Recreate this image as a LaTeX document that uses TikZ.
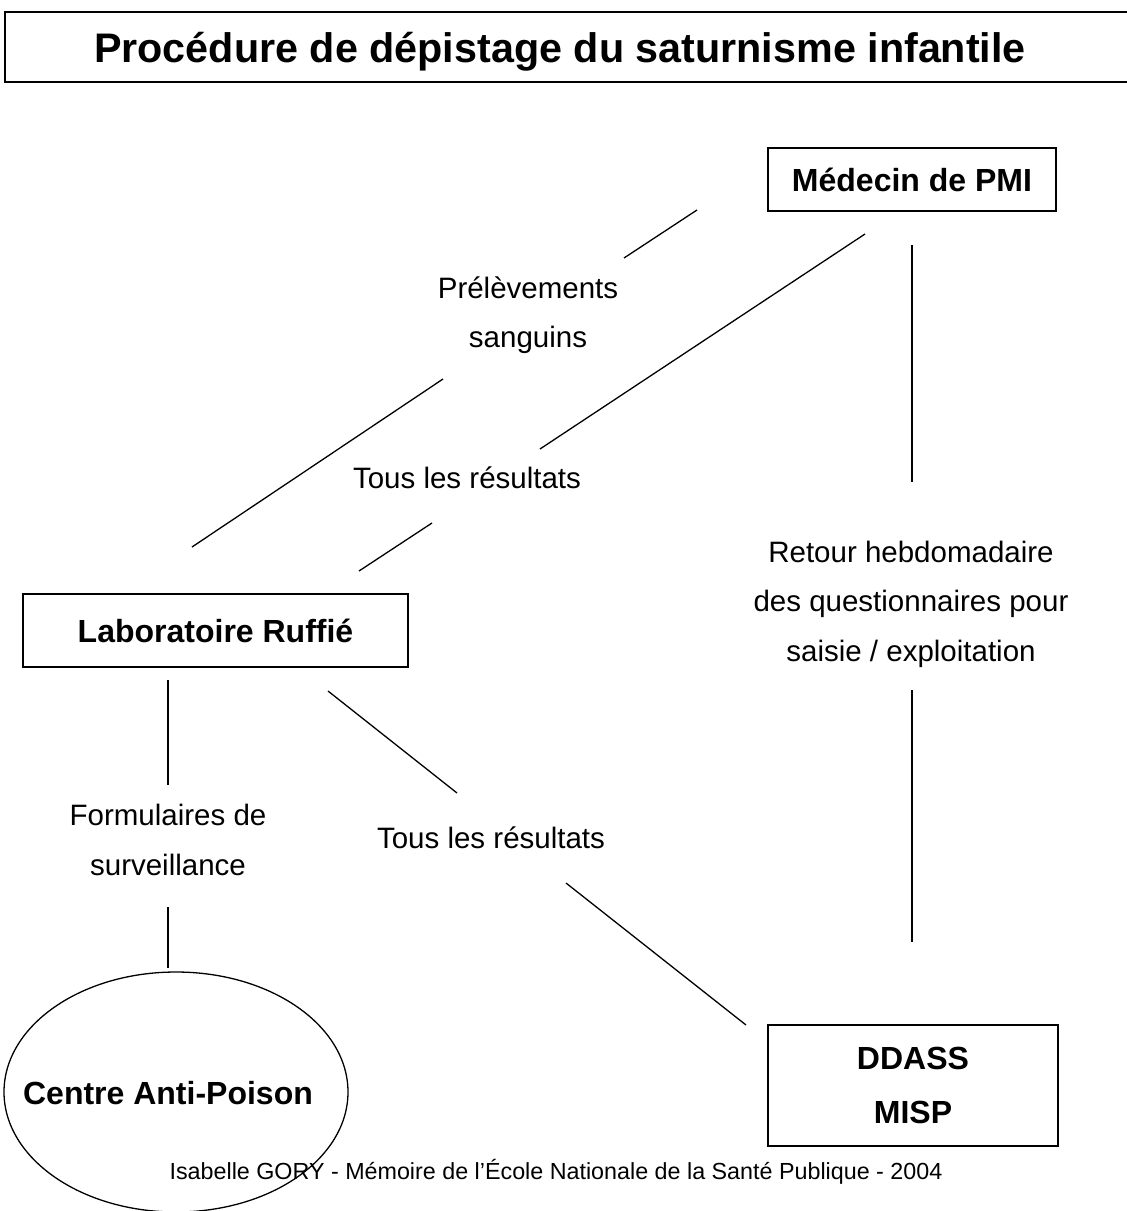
\documentclass[tikz,border=0pt]{standalone}
\usepackage{fontspec}
\setmainfont{Liberation Sans}
\usetikzlibrary{shapes.geometric}
\tikzset{
  boxnode/.style={draw, line width=1.6pt, inner sep=0pt, font=\bfseries\fontsize{32}{54}\selectfont, align=center},
  edgelabel/.style={inner sep=0pt, font=\fontsize{29.5}{49.5}\selectfont, align=center},
  link/.style={line width=1.3pt},
}
\begin{document}
\begin{tikzpicture}[x=1pt,y=-1pt]
\clip (0,0) rectangle (1127,1211);
\useasboundingbox (0,0) rectangle (1127,1211);
\fill[white] (0,0) rectangle (1127,1211);
% title
\draw[line width=1.6pt] (5,12) rectangle (1140,82);
\node[inner sep=0pt, anchor=base, font=\bfseries\fontsize{41.3}{49}\selectfont] (title) at (560,62) {Procédure de dépistage du saturnisme infantile};
% boxes
\node[boxnode, minimum width=288pt, minimum height=63pt] (pmi) at (912,179.5) {Médecin de PMI};
\node[boxnode, minimum width=385pt, minimum height=73pt] (lab) at (215.5,630.5) {Laboratoire Ruffié};
\node[boxnode, minimum width=290pt, minimum height=121pt] (ddass) at (913,1085.5) {DDASS\\MISP};
\node[draw, ellipse, line width=1.3pt, inner sep=0pt, minimum width=344pt, minimum height=240pt] (cap) at (176,1092) {};
\node[inner sep=0pt, font=\bfseries\fontsize{32}{36}\selectfont] (captext) at (168,1093) {Centre Anti-Poison};
% labels
\node[edgelabel] (l1) at (528,315) {Prélèvements\\sanguins};
\node[edgelabel] (l2) at (467,478) {Tous les résultats};
\node[edgelabel] (l3) at (911,604) {Retour hebdomadaire\\des questionnaires pour\\saisie / exploitation};
\node[edgelabel] (l4) at (168,840) {Formulaires de\\surveillance};
\node[edgelabel] (l5) at (491,838) {Tous les résultats};
\node[inner sep=0pt, font=\fontsize{23.3}{28}\selectfont] (footer) at (556,1172) {Isabelle GORY - Mémoire de l’École Nationale de la Santé Publique - 2004};
% connector end points
\coordinate (a1) at (192,547); \coordinate (a2) at (443,379);
\coordinate (a3) at (624,258); \coordinate (a4) at (697,210);
\coordinate (b1) at (865,234); \coordinate (b2) at (540,449);
\coordinate (b3) at (432,523); \coordinate (b4) at (359,571);
\coordinate (c1) at (912,245); \coordinate (c2) at (912,482);
\coordinate (c3) at (912,690); \coordinate (c4) at (912,942);
\coordinate (d1) at (168,680); \coordinate (d2) at (168,785);
\coordinate (d3) at (168,907); \coordinate (d4) at (168,968);
\coordinate (e1) at (328,691); \coordinate (e2) at (457,793);
\coordinate (e3) at (566,883); \coordinate (e4) at (746,1025);
% connectors
\draw[link] (a1) -- (a2);
\draw[link] (a3) -- (a4);
\draw[link] (b1) -- (b2);
\draw[link] (b3) -- (b4);
\draw[link] (c1) -- (c2);
\draw[link] (c3) -- (c4);
\draw[link] (d1) -- (d2);
\draw[link] (d3) -- (d4);
\draw[link] (e1) -- (e2);
\draw[link] (e3) -- (e4);
\end{tikzpicture}
\end{document}
